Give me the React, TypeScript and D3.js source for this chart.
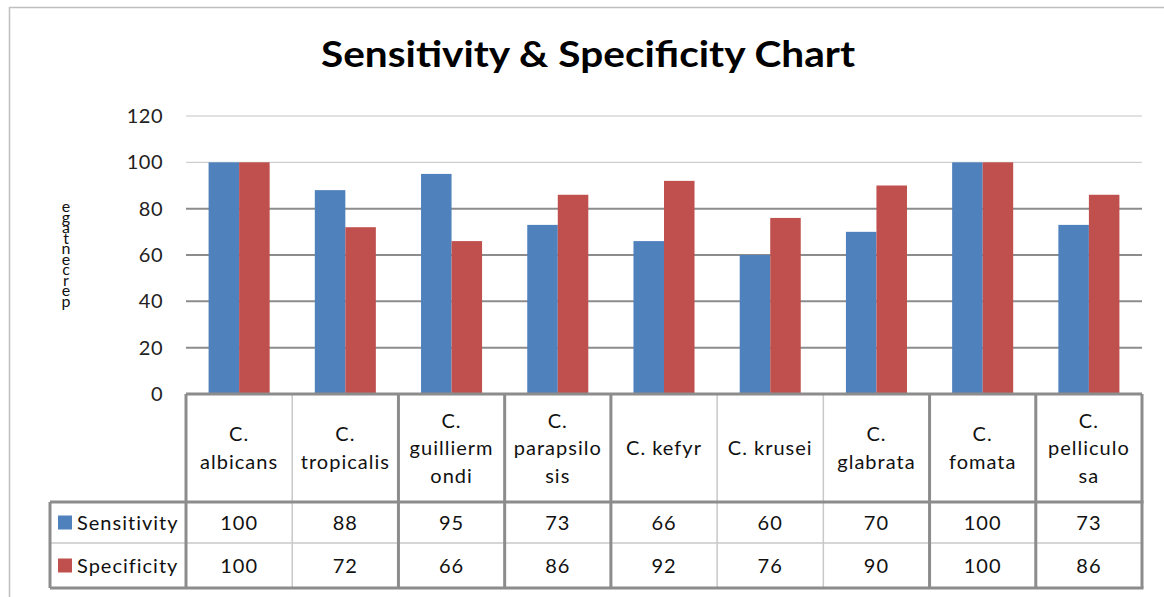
import { scaleBand, scaleLinear } from "d3";

const categories = [
  "C. albicans",
  "C. tropicalis",
  "C. guilliermondi",
  "C. parapsilosis",
  "C. kefyr",
  "C. krusei",
  "C. glabrata",
  "C. fomata",
  "C. pelliculosa",
];
// how the category names wrap in the table header
const categoryLines = [
  ["C.", "albicans"],
  ["C.", "tropicalis"],
  ["C.", "guillierm", "ondi"],
  ["C.", "parapsilo", "sis"],
  ["C. kefyr"],
  ["C. krusei"],
  ["C.", "glabrata"],
  ["C.", "fomata"],
  ["C.", "pelliculo", "sa"],
];
const seriesNames = ["Sensitivity", "Specificity"];
const sensitivity = [100, 88, 95, 73, 66, 60, 70, 100, 73];
const specificity = [100, 72, 66, 86, 92, 76, 90, 100, 86];
const yTicks = [0, 20, 40, 60, 80, 100, 120];
const yLabel = "percentage";

const colors = ["#4F81BD", "#C0504D"];
const W = 1164;
const H = 597;
const font = "Lato, 'Open Sans', sans-serif";

export default function App() {
  const series = [sensitivity, specificity];
  const left = 186;
  const right = 1142;
  const x0 = scaleBand<string>().domain(categories).range([left, right]);
  const x1 = scaleBand<string>()
    .domain(seriesNames)
    .range([0, x0.bandwidth()])
    .paddingOuter(0.74);
  const y = scaleLinear().domain([0, 120]).range([394, 116]);

  // table rows
  const headTop = y(0);
  const headBottom = 502;
  const rowMid = 543;
  const tableBottom = 588;
  const legendLeft = 50;
  const thickCols = [0, 2, 3, 4, 7, 8, 9];

  return (
    <svg
      width={W}
      height={H}
      style={{ position: "absolute", left: 0, top: 0, background: "#fff" }}
      fontFamily={font}
    >
      {/* chart frame */}
      <path d={`M9.5,${H} V7.5 H${W}`} fill="none" stroke="#bfbfbf" strokeWidth={1.5} />

      <text x={588} y={67} textAnchor="middle" fontSize={37} fontWeight="bold" textLength={534} lengthAdjust="spacingAndGlyphs">
        Sensitivity &amp; Specificity Chart
      </text>

      {/* gridlines */}
      {yTicks.map((t) => (
        <line
          key={t}
          x1={left}
          x2={right}
          y1={y(t)}
          y2={y(t)}
          stroke={t >= 100 ? "#c4c4c4" : "#8c8c8c"}
          strokeWidth={t >= 100 ? 1 : 2}
        />
      ))}
      {yTicks.map((t) => (
        <text key={t} x={163} y={y(t)} dy="0.35em" textAnchor="end" fontSize={20} letterSpacing={0.5} fill="#222">
          {t}
        </text>
      ))}

      {/* stacked y label, letters upright and reversed as in the original */}
      <text
        x={66}
        y={196}
        fontSize={16}
        fill="#111"
        textLength={114}
        lengthAdjust="spacing"
        style={{ writingMode: "vertical-rl", textOrientation: "upright" }}
      >
        {yLabel.split("").reverse().join("")}
      </text>

      {/* bars */}
      {categories.map((c, ci) => (
        <g key={c} transform={`translate(${x0(c)},0)`}>
          {seriesNames.map((s, si) => (
            <rect
              key={s}
              x={x1(s)}
              y={y(series[si][ci])}
              width={x1.bandwidth()}
              height={y(0) - y(series[si][ci])}
              fill={colors[si]}
            />
          ))}
        </g>
      ))}

      {/* data table */}
      <g stroke="#c8c8c8" strokeWidth={1.5}>
        {categories.map((c, ci) =>
          ci === 0 || thickCols.includes(ci) ? null : (
            <line key={c} x1={x0(c)} x2={x0(c)} y1={headTop} y2={tableBottom} />
          )
        )}
        <line x1={legendLeft} x2={right} y1={rowMid} y2={rowMid} />
      </g>
      <g stroke="#8c8c8c" strokeWidth={3}>
        {thickCols.map((k) => {
          const xx = k < categories.length ? (x0(categories[k]) as number) : right;
          return <line key={k} x1={xx} x2={xx} y1={headTop} y2={tableBottom} />;
        })}
        <line x1={left} x2={right} y1={headTop} y2={headTop} />
        <line x1={legendLeft} x2={right + 1.5} y1={headBottom} y2={headBottom} />
        <line x1={legendLeft} x2={right + 1.5} y1={tableBottom} y2={tableBottom} />
        <line x1={legendLeft} x2={legendLeft} y1={headBottom} y2={tableBottom} />
      </g>

      {categoryLines.map((lines, ci) => {
        const cx = (x0(categories[ci]) as number) + x0.bandwidth() / 2;
        const mid = (headTop + headBottom) / 2;
        const lh = 27.5;
        return lines.map((ln, li) => (
          <text
            key={ci + "-" + li}
            x={cx}
            y={mid + (li - (lines.length - 1) / 2) * lh}
            dy="0.35em"
            textAnchor="middle"
            fontSize={20}
            letterSpacing={1}
            fill="#111"
          >
            {ln}
          </text>
        ));
      })}

      {seriesNames.map((s, si) => {
        const cy = si === 0 ? (headBottom + rowMid) / 2 : (rowMid + tableBottom) / 2;
        return (
          <g key={s}>
            <rect x={58} y={cy - 7} width={14} height={14} fill={colors[si]} />
            <text x={77} y={cy} dy="0.35em" fontSize={20} letterSpacing={1} fill="#111">
              {s}
            </text>
            {series[si].map((v, ci) => (
              <text
                key={ci}
                x={(x0(categories[ci]) as number) + x0.bandwidth() / 2}
                y={cy}
                dy="0.35em"
                textAnchor="middle"
                fontSize={20}
                letterSpacing={1}
                fill="#111"
              >
                {v}
              </text>
            ))}
          </g>
        );
      })}
    </svg>
  );
}
